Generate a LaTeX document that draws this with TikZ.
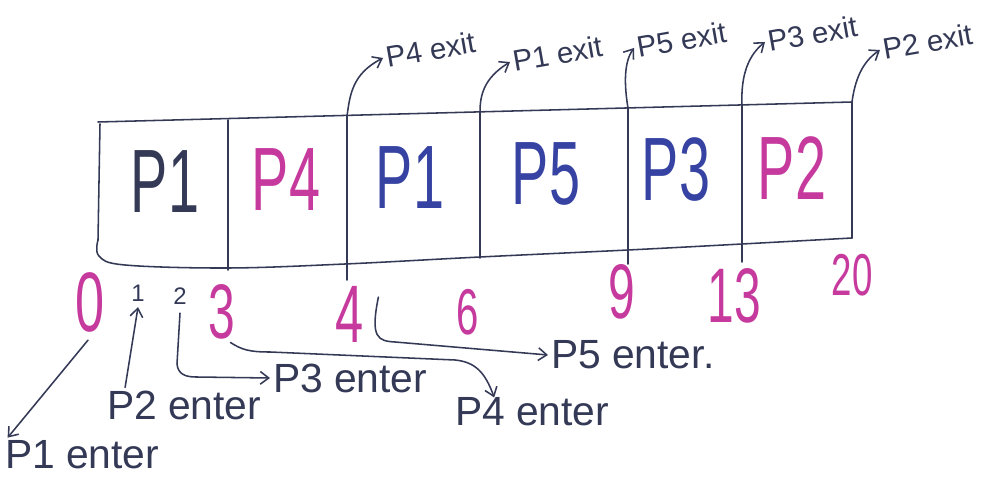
\documentclass[tikz,border=0pt]{standalone}
\usepackage{fontspec}
\setmainfont{Liberation Sans}
\usepackage{graphicx}
\usetikzlibrary{arrows.meta}
\definecolor{ink}{HTML}{343956}
\definecolor{mag}{HTML}{C63A9E}
\definecolor{blu}{HTML}{3643A2}
\newcommand\nar[1]{\scalebox{0.62}[1]{#1}}
\begin{document}
\begin{tikzpicture}[x=0.025cm,y=-0.025cm,
  pen/.style={draw=ink,line width=1.1pt,line cap=round,line join=round},
  arr/.style={pen,-{Straight Barb[length=6pt,width=9pt]}},
  cell/.style={font=\fontsize{64}{64}\selectfont,inner sep=0pt},
  tnum/.style={text=mag,inner sep=0pt},
  small/.style={text=ink,inner sep=0pt,font=\fontsize{17}{17}\selectfont},
  lab/.style={text=ink,inner sep=2pt,font=\fontsize{29}{29}\selectfont},
  xlab/.style={text=ink,inner sep=2pt,font=\fontsize{21}{21}\selectfont,rotate=10}]
\useasboundingbox[fill=white] (0,0) rectangle (1000,490);

% boundary coordinates
\coordinate (b0t) at (100,124); \coordinate (b0b) at (98,240);
\coordinate (b3t) at (228,120); \coordinate (b3b) at (228,270);
\coordinate (b4t) at (347,116); \coordinate (b4b) at (347,280);
\coordinate (b6t) at (480,112); \coordinate (b6b) at (480,258);
\coordinate (b9t) at (628,108); \coordinate (b9b) at (628,264);
\coordinate (b13t) at (742,105); \coordinate (b13b) at (742,262);
\coordinate (b20t) at (852,102); \coordinate (b20b) at (852,238);

% outline
\draw[pen] (98,122) -- (b20t) -- (b20b);
\draw[pen] plot[smooth,tension=0.6] coordinates {(b0b) (99,256) (125,265) (228,268) (345,264) (480,257) (628,250) (742,244) (b20b)};
\draw[pen] (b0t) -- (b0b);
\foreach \n in {3,4,6,9,13} \draw[pen] (b\n t) -- (b\n b);

% cell labels
\node[cell,text=ink] (c1) at (165,182) {\nar{P1}};
\node[cell,text=mag] (c2) at (286,180) {\nar{P4}};
\node[cell,text=blu] (c3) at (410,178) {\nar{P1}};
\node[cell,text=blu] (c4) at (546,174) {\nar{P5}};
\node[cell,text=blu] (c5) at (676,170) {\nar{P3}};
\node[cell,text=mag] (c6) at (792,168) {\nar{P2}};

% time labels
\node[tnum,font=\fontsize{60}{60}\selectfont] (t0) at (90,302) {\nar{0}};
\node[small] (t1) at (138,293) {1};
\node[small] (t2) at (180,296) {2};
\node[tnum,font=\fontsize{55}{55}\selectfont] (t3) at (222,312) {\nar{3}};
\node[tnum,font=\fontsize{58}{58}\selectfont] (t4) at (350,314) {\nar{4}};
\node[tnum,font=\fontsize{46}{46}\selectfont] (t6) at (468,312) {\nar{6}};
\node[tnum,font=\fontsize{55}{55}\selectfont] (t9) at (622,292) {\nar{9}};
\node[tnum,font=\fontsize{55}{55}\selectfont] (t13) at (734,296) {\nar{13}};
\node[tnum,font=\fontsize{42}{42}\selectfont] (t20) at (852,275) {\nar{20}};

% enter labels
\node[lab,anchor=west] (e1) at (2,455) {P1 enter};
\node[lab,anchor=west] (e2) at (104,405) {P2 enter};
\node[lab,anchor=west] (e3) at (270,378) {P3 enter};
\node[lab,anchor=west] (e4) at (452,412) {P4 enter};
\node[lab,anchor=west] (e5) at (548,355) {P5 enter.};

% enter arrows
\draw[arr] (t0.south) ++(-2,8) -- ([xshift=4pt]e1.north west);
\draw[arr] ([xshift=15pt]e2.north west) -- ([yshift=-4pt]t1.south);
\draw[arr] ([yshift=-6pt]t2.south) -- (177,364) .. controls (178,374) and (185,377) .. (196,377) -- (e3.west);
\draw[arr] ([xshift=6pt,yshift=-2pt]t3.south) .. controls (242,350) and (250,352) .. (270,352)
  -- (455,360) .. controls (475,362) and (485,372) .. ([xshift=30pt,yshift=-2pt]e4.north west);
\draw[arr] ([xshift=10pt,yshift=12pt]t4.east) .. controls (370,338) and (378,341) .. (395,342) -- (e5.west);

% exit labels
\node[xlab,anchor=west] (x4) at (383,58) {P4 exit};
\node[xlab,anchor=west] (x1) at (510,62) {P1 exit};
\node[xlab,anchor=west] (x5) at (634,48) {P5 exit};
\node[xlab,anchor=west] (x3) at (765,42) {P3 exit};
\node[xlab,anchor=west] (x2) at (880,50) {P2 exit};

% exit arrows
\draw[arr] (b4t) .. controls (350,95) and (352,74) .. (x4.west);
\draw[arr] (b6t) .. controls (480,95) and (484,78) .. (x1.west);
\draw[arr] (b9t) .. controls (624,84) and (624,62) .. (x5.west);
\draw[arr] (b13t) .. controls (741,82) and (745,58) .. (x3.west);
\draw[arr] (b20t) .. controls (855,80) and (862,62) .. (x2.west);
\end{tikzpicture}
\end{document}
